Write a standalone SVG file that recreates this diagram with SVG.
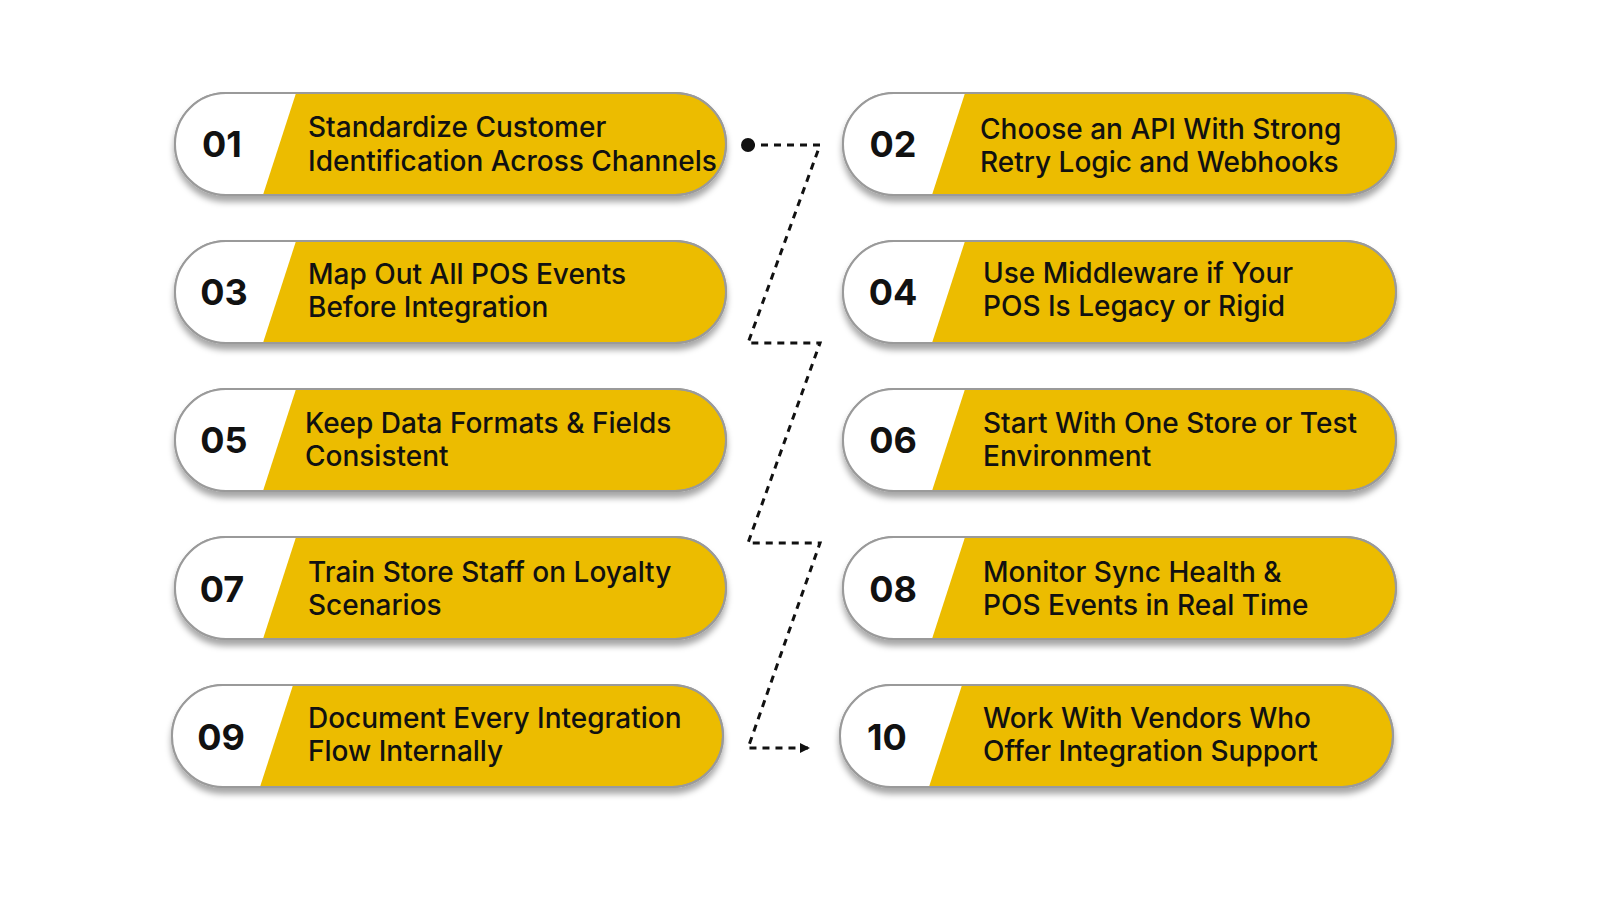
<svg xmlns="http://www.w3.org/2000/svg" width="1600" height="900" viewBox="0 0 1600 900">
<style>
.pill{fill:#ecbc00;stroke:#9a9a9a;stroke-width:2}
.num{font-family:Inter,"Liberation Sans",sans-serif;font-weight:700;font-size:36px;fill:#111;text-anchor:middle}
.lbl{font-family:Inter,"Liberation Sans",sans-serif;font-weight:500;font-size:28px;fill:#111}
.con{fill:none;stroke:#111;stroke-width:3;stroke-dasharray:7 6}
</style>
<defs>
<filter id="sh" x="-10%" y="-20%" width="120%" height="150%"><feDropShadow dx="0" dy="6" stdDeviation="3" flood-color="#000" flood-opacity="0.35"/></filter>
<marker id="arr" markerWidth="10" markerHeight="10" refX="8" refY="5" orient="auto" markerUnits="userSpaceOnUse" viewBox="0 0 10 10"><path d="M0,0 L10,5 L0,10 z" fill="#111"/></marker>
<clipPath id="cl"><rect x="175" y="93" width="551" height="102" rx="51"/></clipPath>
<clipPath id="cr"><rect x="843" y="93" width="553" height="102" rx="51"/></clipPath>
</defs>
<rect width="1600" height="900" fill="#fff"/>
<g id="connectors">
<path class="con" d="M748,145 H820 L748,343 H820 L748,543 H820 L748,748 H808" marker-end="url(#arr)"/>
<circle cx="748" cy="145" r="7" fill="#111"/>
</g>
<g id="n01" transform="translate(0,0)">
<rect class="pill" x="175" y="93" width="551" height="102" rx="51" filter="url(#sh)"/>
<path d="M150,90 H297 L262,198 H150 z" fill="#fff" clip-path="url(#cl)"/>
<rect x="175" y="93" width="551" height="102" rx="51" fill="none" stroke="#9a9a9a" stroke-width="2"/>
<text class="num" x="222" y="157">01</text>
<text class="lbl" x="308" y="137">Standardize Customer</text>
<text class="lbl" x="308" y="171">Identification Across Channels</text>
</g>
<g id="n03" transform="translate(0,148)">
<rect class="pill" x="175" y="93" width="551" height="102" rx="51" filter="url(#sh)"/>
<path d="M150,90 H297 L262,198 H150 z" fill="#fff" clip-path="url(#cl)"/>
<rect x="175" y="93" width="551" height="102" rx="51" fill="none" stroke="#9a9a9a" stroke-width="2"/>
<text class="num" x="224" y="157">03</text>
<text class="lbl" x="308" y="136">Map Out All POS Events</text>
<text class="lbl" x="308" y="169">Before Integration</text>
</g>
<g id="n05" transform="translate(0,296)">
<rect class="pill" x="175" y="93" width="551" height="102" rx="51" filter="url(#sh)"/>
<path d="M150,90 H297 L262,198 H150 z" fill="#fff" clip-path="url(#cl)"/>
<rect x="175" y="93" width="551" height="102" rx="51" fill="none" stroke="#9a9a9a" stroke-width="2"/>
<text class="num" x="224" y="157">05</text>
<text class="lbl" x="305" y="137">Keep Data Formats &amp; Fields</text>
<text class="lbl" x="305" y="170">Consistent</text>
</g>
<g id="n07" transform="translate(0,444)">
<rect class="pill" x="175" y="93" width="551" height="102" rx="51" filter="url(#sh)"/>
<path d="M150,90 H297 L262,198 H150 z" fill="#fff" clip-path="url(#cl)"/>
<rect x="175" y="93" width="551" height="102" rx="51" fill="none" stroke="#9a9a9a" stroke-width="2"/>
<text class="num" x="222" y="158">07</text>
<text class="lbl" x="308" y="138">Train Store Staff on Loyalty</text>
<text class="lbl" x="308" y="171">Scenarios</text>
</g>
<g id="n09" transform="translate(-3,592)">
<rect class="pill" x="175" y="93" width="551" height="102" rx="51" filter="url(#sh)"/>
<path d="M150,90 H297 L262,198 H150 z" fill="#fff" clip-path="url(#cl)"/>
<rect x="175" y="93" width="551" height="102" rx="51" fill="none" stroke="#9a9a9a" stroke-width="2"/>
<text class="num" x="224" y="158">09</text>
<text class="lbl" x="311" y="136">Document Every Integration</text>
<text class="lbl" x="311" y="169">Flow Internally</text>
</g>
<g id="n02" transform="translate(0,0)">
<rect class="pill" x="843" y="93" width="553" height="102" rx="51" filter="url(#sh)"/>
<path d="M820,90 H966 L931,198 H820 z" fill="#fff" clip-path="url(#cr)"/>
<rect x="843" y="93" width="553" height="102" rx="51" fill="none" stroke="#9a9a9a" stroke-width="2"/>
<text class="num" x="893" y="157">02</text>
<text class="lbl" x="980" y="139">Choose an API With Strong</text>
<text class="lbl" x="980" y="172">Retry Logic and Webhooks</text>
</g>
<g id="n04" transform="translate(0,148)">
<rect class="pill" x="843" y="93" width="553" height="102" rx="51" filter="url(#sh)"/>
<path d="M820,90 H966 L931,198 H820 z" fill="#fff" clip-path="url(#cr)"/>
<rect x="843" y="93" width="553" height="102" rx="51" fill="none" stroke="#9a9a9a" stroke-width="2"/>
<text class="num" x="893" y="157">04</text>
<text class="lbl" x="983" y="135">Use Middleware if Your</text>
<text class="lbl" x="983" y="168">POS Is Legacy or Rigid</text>
</g>
<g id="n06" transform="translate(0,296)">
<rect class="pill" x="843" y="93" width="553" height="102" rx="51" filter="url(#sh)"/>
<path d="M820,90 H966 L931,198 H820 z" fill="#fff" clip-path="url(#cr)"/>
<rect x="843" y="93" width="553" height="102" rx="51" fill="none" stroke="#9a9a9a" stroke-width="2"/>
<text class="num" x="893" y="157">06</text>
<text class="lbl" x="983" y="137">Start With One Store or Test</text>
<text class="lbl" x="983" y="170">Environment</text>
</g>
<g id="n08" transform="translate(0,444)">
<rect class="pill" x="843" y="93" width="553" height="102" rx="51" filter="url(#sh)"/>
<path d="M820,90 H966 L931,198 H820 z" fill="#fff" clip-path="url(#cr)"/>
<rect x="843" y="93" width="553" height="102" rx="51" fill="none" stroke="#9a9a9a" stroke-width="2"/>
<text class="num" x="893" y="158">08</text>
<text class="lbl" x="983" y="138">Monitor Sync Health &amp;</text>
<text class="lbl" x="983" y="171">POS Events in Real Time</text>
</g>
<g id="n10" transform="translate(-3,592)">
<rect class="pill" x="843" y="93" width="553" height="102" rx="51" filter="url(#sh)"/>
<path d="M820,90 H966 L931,198 H820 z" fill="#fff" clip-path="url(#cr)"/>
<rect x="843" y="93" width="553" height="102" rx="51" fill="none" stroke="#9a9a9a" stroke-width="2"/>
<text class="num" x="890" y="158">10</text>
<text class="lbl" x="986" y="136">Work With Vendors Who</text>
<text class="lbl" x="986" y="169">Offer Integration Support</text>
</g>
</svg>
